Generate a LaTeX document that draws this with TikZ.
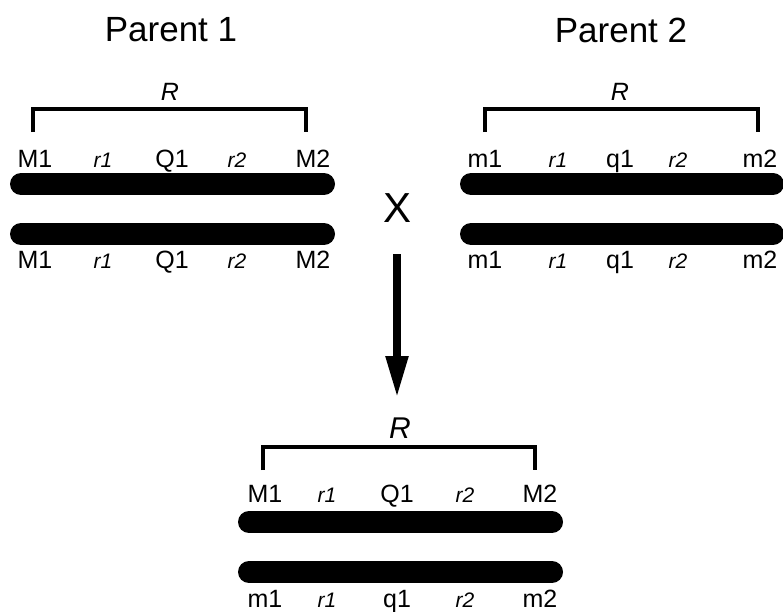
\documentclass[tikz,border=0pt]{standalone}
\usepackage{fontspec}
\setmainfont{Liberation Sans}
\usetikzlibrary{arrows.meta}
\begin{document}
\begin{tikzpicture}[x=1pt,y=-1pt,
  lbl/.style={inner sep=0pt,anchor=base,font=\fontsize{25}{25}\selectfont},
  rl/.style={inner sep=0pt,anchor=base,font=\fontsize{21}{21}\selectfont\itshape},
  title/.style={inner sep=0pt,anchor=center,font=\fontsize{35}{35}\selectfont},
  chrom/.style={line width=22pt,line cap=round},
  brk/.style={line width=3.5pt},
  rlab/.style={inner sep=0pt,anchor=center,font=\fontsize{25}{25}\selectfont\itshape}]
\useasboundingbox (0,0) rectangle (783,611);
% titles
\node[title] (t1) at (171,30) {Parent 1};
\node[title] (t2) at (621,30) {Parent 2};
% ---- Parent 1
\node[rlab] (R1) at (170,92) {R};
\coordinate (b1a) at (33,132); \coordinate (b1b) at (306,132);
\draw[brk] (b1a) |- (170,109) -| (b1b);
\node[lbl] (p1M1) at (35,167) {M1};
\node[rl] (p1r1) at (103,167) {r1};
\node[lbl] (p1Q1) at (172,167) {Q1};
\node[rl] (p1r2) at (237,167) {r2};
\node[lbl] (p1M2) at (313,167) {M2};
\coordinate (c1a) at (21,184); \coordinate (c1b) at (324,184);
\draw[chrom] (c1a) -- (c1b);
\coordinate (c2a) at (21,234); \coordinate (c2b) at (324,234);
\draw[chrom] (c2a) -- (c2b);
\node[lbl] (p1M1b) at (35,268) {M1};
\node[rl] (p1r1b) at (103,268) {r1};
\node[lbl] (p1Q1b) at (172,268) {Q1};
\node[rl] (p1r2b) at (237,268) {r2};
\node[lbl] (p1M2b) at (313,268) {M2};
% ---- Parent 2
\node[rlab] (R2) at (620,92) {R};
\coordinate (b2a) at (485,132); \coordinate (b2b) at (758,132);
\draw[brk] (b2a) |- (620,109) -| (b2b);
\node[lbl] (p2m1) at (485,167) {m1};
\node[rl] (p2r1) at (558,167) {r1};
\node[lbl] (p2q1) at (620,167) {q1};
\node[rl] (p2r2) at (678,167) {r2};
\node[lbl] (p2m2) at (760,167) {m2};
\coordinate (c3a) at (471,184); \coordinate (c3b) at (773,184);
\draw[chrom] (c3a) -- (c3b);
\coordinate (c4a) at (471,234); \coordinate (c4b) at (773,234);
\draw[chrom] (c4a) -- (c4b);
\node[lbl] (p2m1b) at (485,268) {m1};
\node[rl] (p2r1b) at (558,268) {r1};
\node[lbl] (p2q1b) at (620,268) {q1};
\node[rl] (p2r2b) at (678,268) {r2};
\node[lbl] (p2m2b) at (760,268) {m2};
% ---- cross
\node[inner sep=0pt,font=\fontsize{42}{42}\selectfont] (X) at (397,208) {X};
\coordinate (as) at (397,254); \coordinate (ae) at (397,398);
\draw[line width=8pt,-{Triangle[length=42pt,width=21pt]}] (as) -- (ae);
% ---- child
\node[inner sep=0pt,font=\fontsize{30}{30}\selectfont\itshape] (R3) at (400,428) {R};
\coordinate (b3a) at (263,470); \coordinate (b3b) at (535,470);
\draw[brk] (b3a) |- (400,447) -| (b3b);
\node[lbl] (cM1) at (265,502) {M1};
\node[rl] (cr1) at (327,502) {r1};
\node[lbl] (cQ1) at (397,502) {Q1};
\node[rl] (cr2) at (465,502) {r2};
\node[lbl] (cM2) at (540,502) {M2};
\coordinate (c5a) at (249,522); \coordinate (c5b) at (552,522);
\draw[chrom] (c5a) -- (c5b);
\coordinate (c6a) at (249,572); \coordinate (c6b) at (552,572);
\draw[chrom] (c6a) -- (c6b);
\node[lbl] (cm1) at (265,607) {m1};
\node[rl] (cr1b) at (327,607) {r1};
\node[lbl] (cq1) at (397,607) {q1};
\node[rl] (cr2b) at (465,607) {r2};
\node[lbl] (cm2) at (540,607) {m2};
\end{tikzpicture}
\end{document}
